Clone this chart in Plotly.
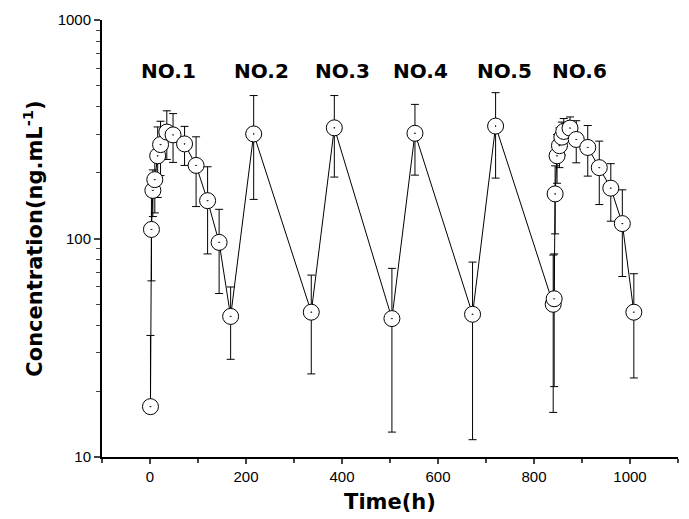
import plotly.graph_objects as go

# sampling times (h) and mean concentration (ng/mL) with SD
time_h = [1, 3, 6, 10, 16, 22, 35, 48, 72, 96, 120, 144, 168,
          216, 336, 384, 504, 552, 672, 720,
          840, 842, 844, 848, 853, 858, 862, 875, 888, 912, 936, 960, 984, 1008]
conc = [17, 110, 166, 186, 239, 269, 307, 298, 271, 216, 149, 96, 44,
        301, 46, 321, 43, 303, 45, 327,
        50, 53, 160, 239, 266, 291, 309, 320, 284, 261, 211, 170, 117, 46]
sd = [19, 46, 40, 55, 85, 75, 77, 75, 55, 76, 64, 40, 16,
      150, 22, 130, 30, 108, 33, 138,
      34, 32, 55, 60, 55, 50, 45, 40, 62, 68, 68, 50, 50, 23]

dose_labels = ["NO.1", "NO.2", "NO.3", "NO.4", "NO.5", "NO.6"]
label_x = [38, 232, 400, 563, 738, 894]

x_ticks = [0, 200, 400, 600, 800, 1000]

# on a log axis a bar below zero can not be drawn, so drop the lower half there
sd_minus = [e if e < c else 0 for c, e in zip(conc, sd)]

fig = go.Figure(
    go.Scatter(
        x=time_h,
        y=conc,
        mode="lines+markers",
        line=dict(color="black", width=1),
        marker=dict(symbol="circle-dot", size=16, color="white",
                    line=dict(color="black", width=1)),
        error_y=dict(type="data", array=sd, arrayminus=sd_minus,
                     symmetric=False, color="black", thickness=1, width=4),
    )
)

for txt, lx in zip(dose_labels, label_x):
    fig.add_annotation(x=lx, y=2.767, text="<b>%s</b>" % txt, showarrow=False,
                       font=dict(family="DejaVu Sans", size=20, color="black"),
                       xanchor="center", yanchor="middle")

# the page body has an 8px margin, so the figure is a bit smaller than the window
fig.update_layout(
    width=681,
    height=511,
    margin=dict(l=94, r=11, t=12, b=62, autoexpand=False),
    showlegend=False,
    plot_bgcolor="white",
    paper_bgcolor="white",
    font=dict(family="Liberation Sans, Arial", size=15, color="black"),
)
fig.update_xaxes(
    range=[-100, 1100],
    tickvals=x_ticks,
    ticks="outside", ticklen=5, tickwidth=2,
    minor=dict(ticks="outside", ticklen=4, tickwidth=2, dtick=100, tick0=0),
    showline=True, linewidth=2, linecolor="black",
    showgrid=False, zeroline=False, automargin=False,
    title=dict(text="<b>Time(h)</b>", standoff=10,
               font=dict(family="DejaVu Sans", size=21)),
)
fig.update_yaxes(
    type="log",
    range=[1, 3],
    dtick=1,
    ticks="outside", ticklen=6, tickwidth=2,
    minor=dict(ticks="outside", ticklen=4, tickwidth=1, dtick="D1"),
    showline=True, linewidth=2, linecolor="black",
    showgrid=False, zeroline=False, automargin=False,
    title=dict(text="<b>Concentration(ng.mL<sup>-1</sup>)</b>", standoff=9,
               font=dict(family="DejaVu Sans", size=21)),
)

fig.write_html("out.html")
